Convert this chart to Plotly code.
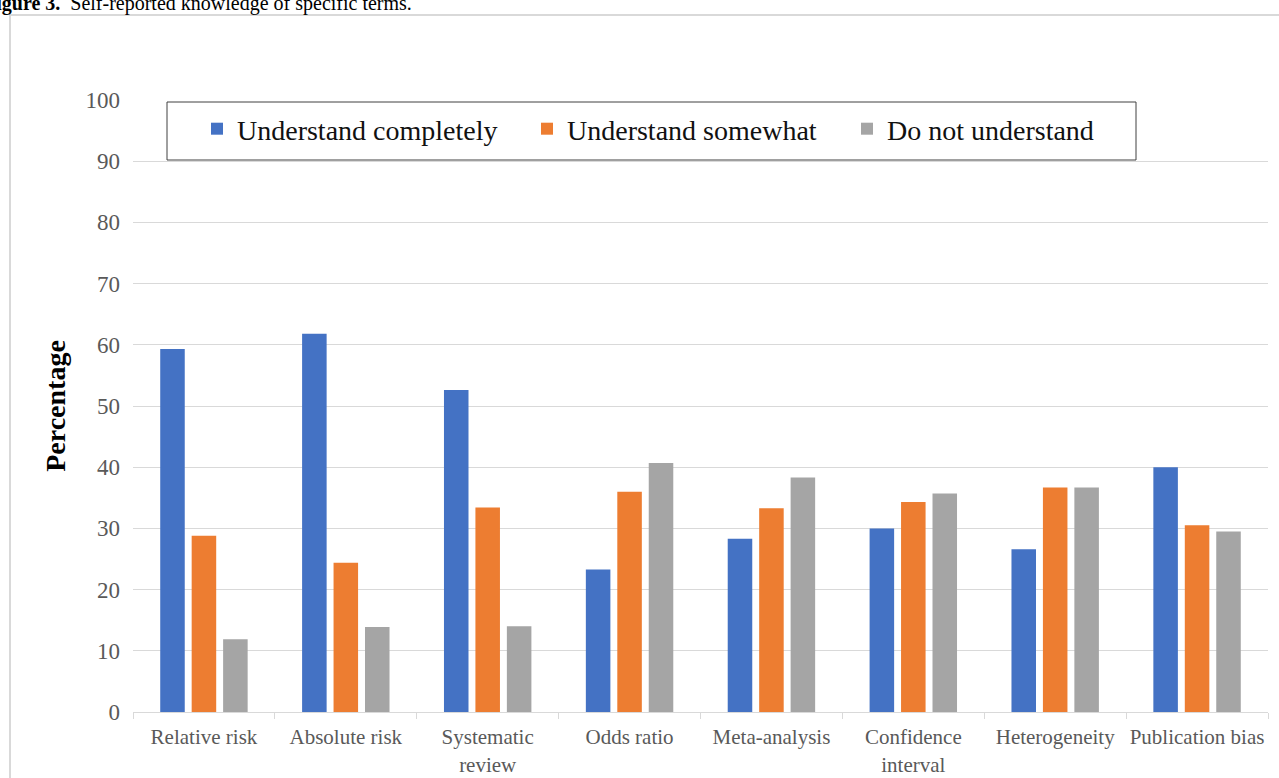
import plotly.graph_objects as go

# Survey terms (x categories) and response shares in percent
terms = ["Relative risk", "Absolute risk", "Systematic<br>review", "Odds ratio",
         "Meta-analysis", "Confidence<br>interval", "Heterogeneity", "Publication bias"]
understand_completely = [59.3, 61.8, 52.6, 23.3, 28.3, 30.0, 26.6, 40.0]
understand_somewhat = [28.8, 24.4, 33.4, 36.0, 33.3, 34.3, 36.7, 30.5]
do_not_understand = [11.9, 13.9, 14.0, 40.7, 38.3, 35.7, 36.7, 29.5]

series_names = ["Understand completely", "Understand somewhat", "Do not understand"]
series_colors = ["#4472C4", "#ED7D31", "#A5A5A5"]
y_ticks = list(range(0, 101, 10))

SERIF = "Liberation Serif"
W, H = 1279, 778
L, R, T, B = 133, 11, 100, 66
plot_w = W - L - R
plot_h = H - T - B


def px_x(p):
    return (p - L) / plot_w


def px_y(p):
    return (H - B - p) / plot_h


fig = go.Figure()
legend_ids = ["legend2", "legend3", "legend4"]
for name, vals, col, lg in zip(series_names,
                               [understand_completely, understand_somewhat, do_not_understand],
                               series_colors, legend_ids):
    fig.add_trace(go.Bar(x=terms, y=vals, name=name, marker_color=col,
                         marker_line_width=0, legend=lg))

legend_common = dict(orientation="h", yanchor="middle", xanchor="left",
                     y=px_y(129), bgcolor="rgba(0,0,0,0)",
                     font=dict(family=SERIF, size=28, color="#111111"))

fig.update_layout(
    width=W, height=H,
    margin=dict(l=L, r=R, t=T, b=B, autoexpand=False),
    paper_bgcolor="white", plot_bgcolor="white",
    barmode="group", bargap=0.335, bargroupgap=0.22,
    font=dict(family=SERIF),
    showlegend=True,
    legend2=dict(x=px_x(197), **legend_common),
    legend3=dict(x=px_x(527), **legend_common),
    legend4=dict(x=px_x(847), **legend_common),
    xaxis=dict(type="category", showline=True, linecolor="#d9d9d9", linewidth=1,
               ticks="outside", tickson="boundaries", ticklen=6, tickcolor="#d9d9d9",
               tickfont=dict(family=SERIF, size=21, color="#595959"),
               tickangle=0, automargin=False,
               ticklabelstandoff=6, showgrid=False),
    yaxis=dict(range=[0, 100], tickvals=y_ticks, showgrid=True, gridcolor="#d9d9d9",
               gridwidth=1, zeroline=False, showline=False, automargin=False,
               tickfont=dict(family=SERIF, size=23, color="#595959"),
               ticklabelstandoff=12,
               title=dict(text="<b>Percentage</b>", standoff=11,
                          font=dict(family=SERIF, size=28, color="black"))),
    shapes=[
        # outer chart frame
        dict(type="rect", xref="paper", yref="paper",
             x0=px_x(10), x1=px_x(1400), y0=px_y(15), y1=px_y(900),
             line=dict(color="#d9d9d9", width=2), fillcolor="rgba(0,0,0,0)", layer="below"),
        # legend box
        dict(type="rect", xref="paper", yref="paper",
             x0=px_x(167), x1=px_x(1136), y0=px_y(102), y1=px_y(160),
             line=dict(color="#404040", width=1), fillcolor="white", layer="below"),
    ],
    annotations=[
        dict(text="<b>Figure 3.</b>  Self-reported knowledge of specific terms.",
             xref="paper", yref="paper", x=px_x(-18), y=px_y(4),
             xanchor="left", yanchor="middle", showarrow=False,
             font=dict(family=SERIF, size=20, color="black")),
    ],
)

fig.write_html("out.html")
